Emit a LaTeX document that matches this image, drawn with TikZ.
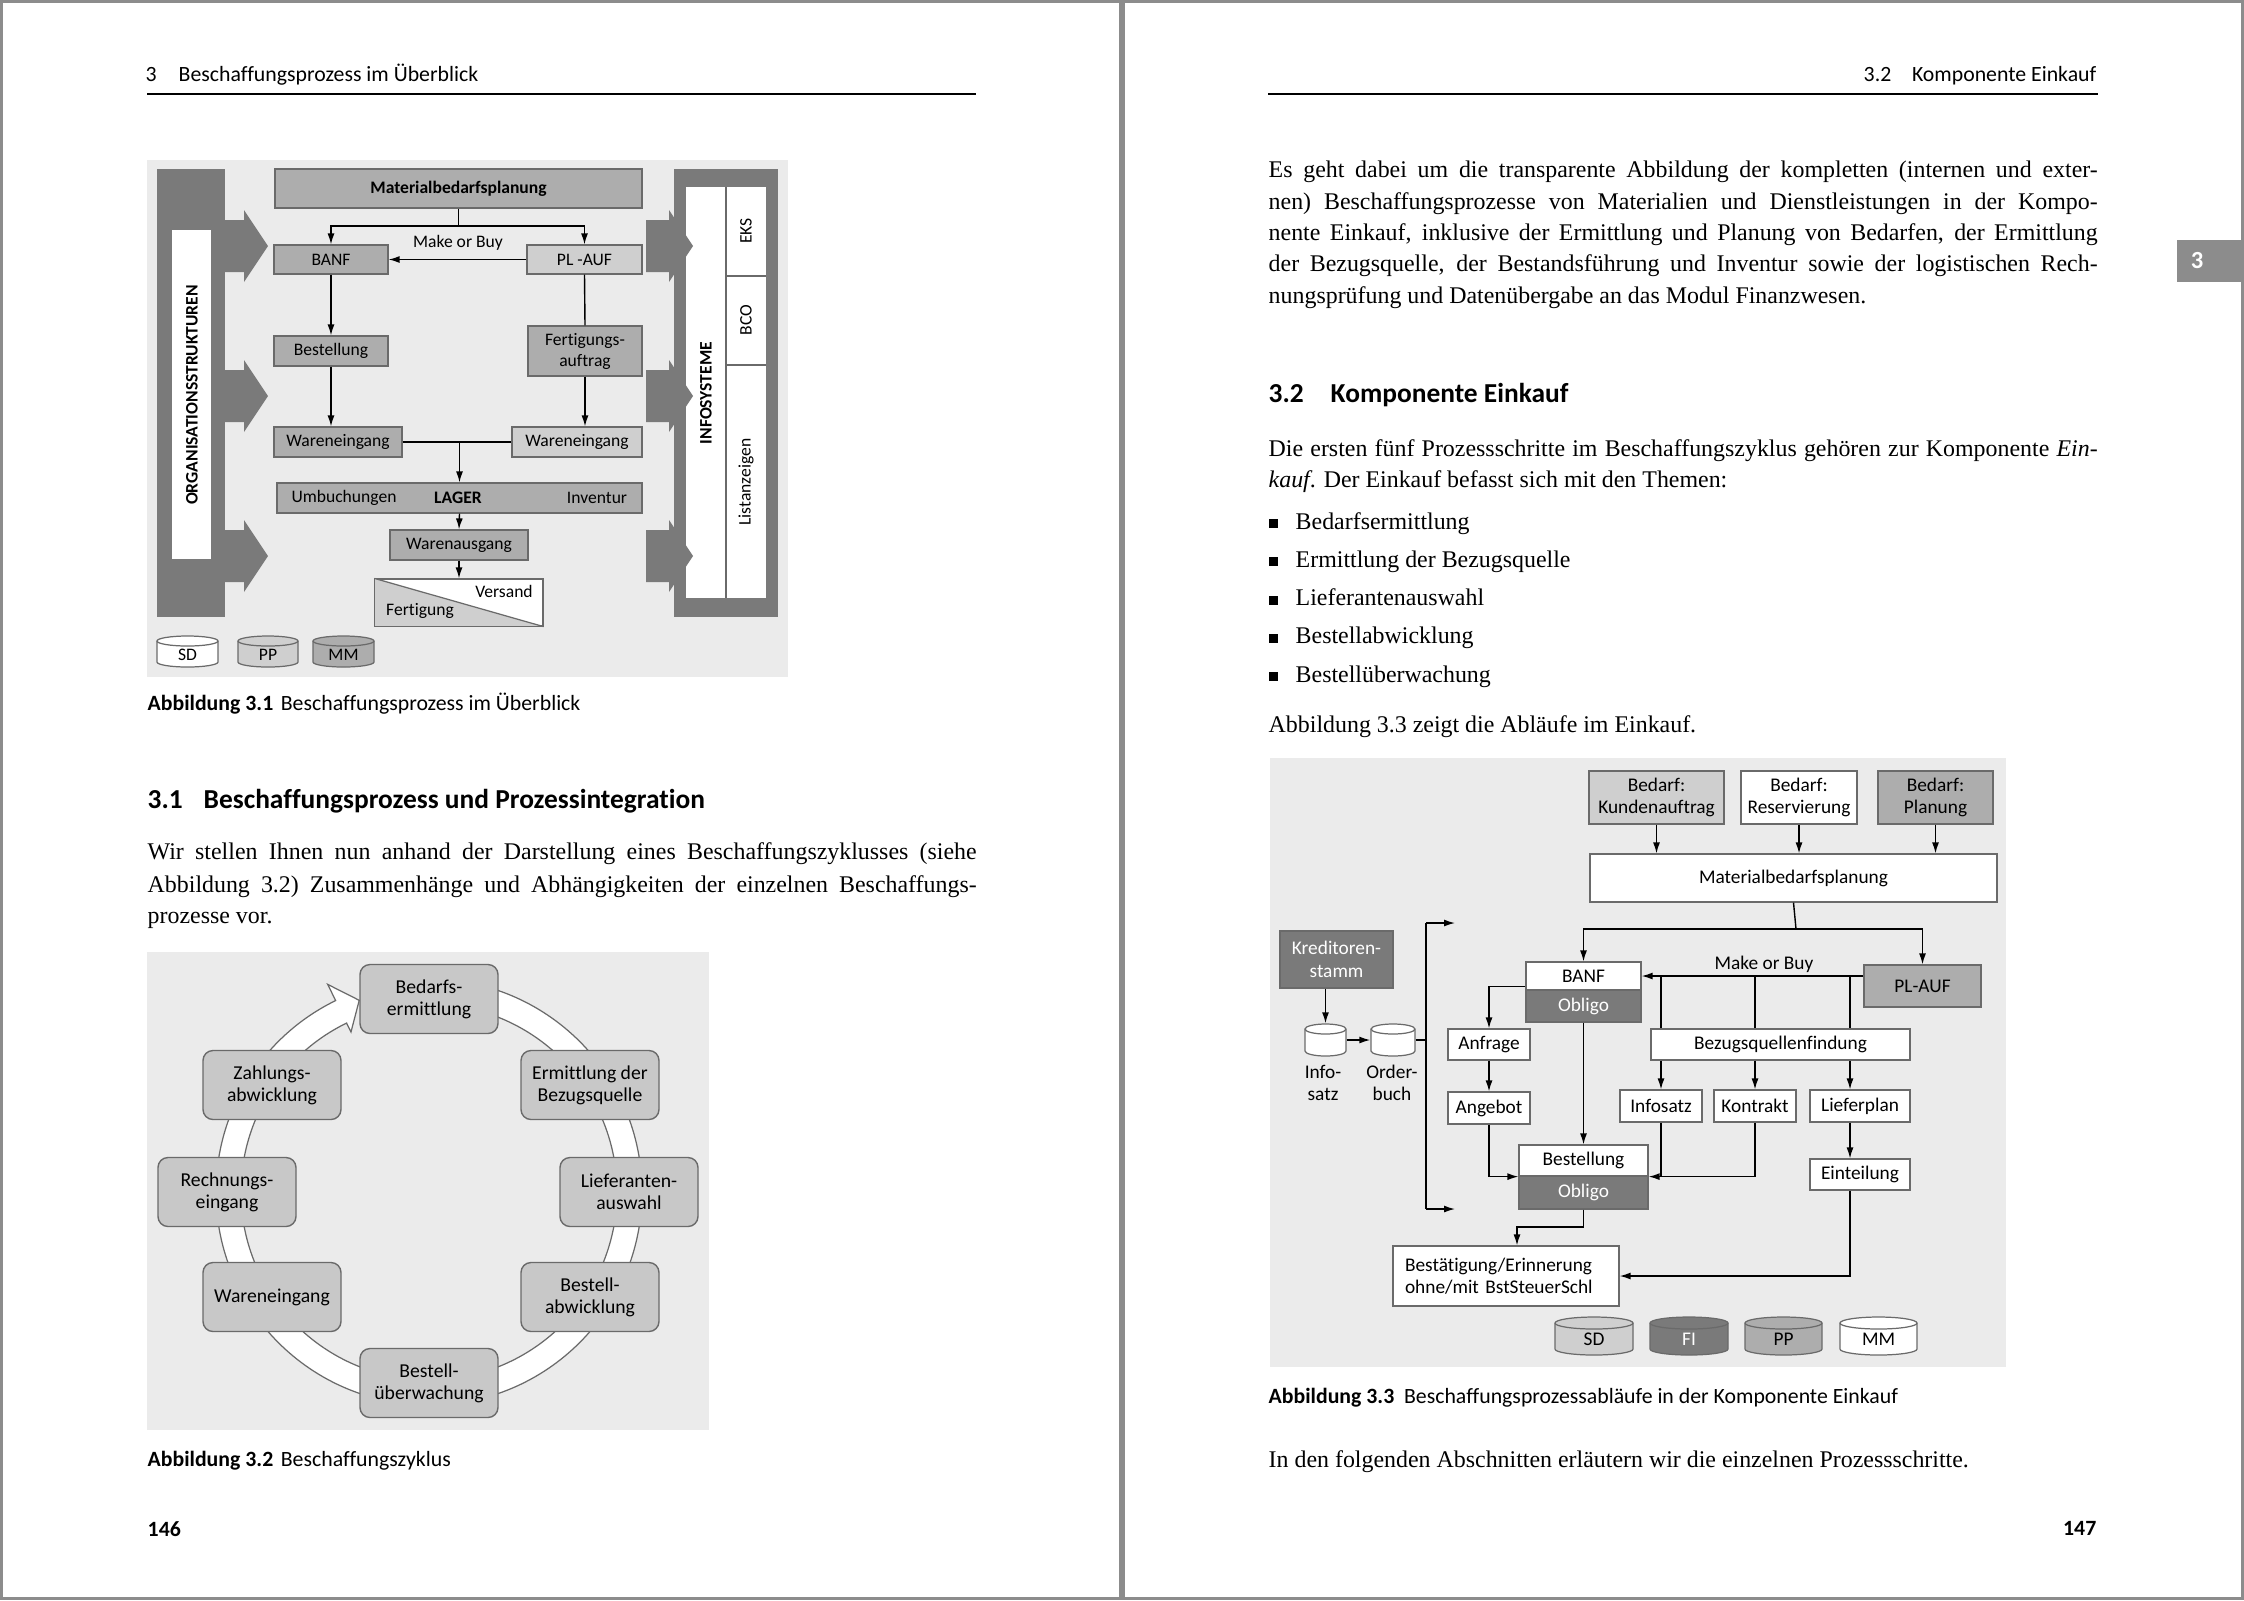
\documentclass[tikz,border=0pt]{standalone}
\usepackage{fontspec}
\setmainfont{Liberation Serif}
\setsansfont{Carlito}[Ligatures=NoCommon]
\usetikzlibrary{arrows.meta,calc}

\definecolor{pageedge}{HTML}{8C8C8C}
\definecolor{figbg}{HTML}{EBEBEB}
\definecolor{bardark}{HTML}{7A7A7A}
\definecolor{boxmid}{HTML}{ADADAD}
\definecolor{boxlight}{HTML}{CFCFCF}
\definecolor{boxline}{HTML}{6A6A6A}
\definecolor{cyclefill}{HTML}{C8C8C8}

\newcommand{\txtfont}{\rmfamily\fontsize{6.8pt}{8pt}\selectfont}
\newcommand{\capfont}{\sffamily\fontsize{6.2pt}{7.5pt}\selectfont}
\newcommand{\headfont}{\sffamily\bfseries\fontsize{7.8pt}{9pt}\selectfont}
\newcommand{\figfonta}{\sffamily\fontsize{5pt}{6pt}\selectfont}
\newcommand{\figfontb}{\sffamily\fontsize{5.6pt}{6.3pt}\selectfont}
\newcommand{\figfontc}{\sffamily\fontsize{5.5pt}{6.4pt}\selectfont}
\newcommand{\jline}[1]{\makebox[82.9mm][s]{#1}}
\def\cyle{5}
% database cylinder: name, centre x, top y, bottom y, width, fill, text
\newcommand{\dbcyl}[7]{%
  \path[draw=boxline, line width=0.35pt, fill=#6]
    (#2-#5/2,#3+\cyle) -- (#2-#5/2,#4-\cyle)
    arc[start angle=180, end angle=0, x radius=#5/2, y radius=\cyle]
    -- (#2+#5/2,#3+\cyle)
    arc[start angle=0, end angle=-180, x radius=#5/2, y radius=\cyle] -- cycle;
  \draw[boxline, line width=0.35pt] (#2-#5/2,#3+\cyle)
    arc[start angle=180, end angle=0, x radius=#5/2, y radius=\cyle];
  \node[inner sep=0pt, minimum width={#5*0.1mm}, minimum height={(#4-#3)*0.1mm}] (#1) at (#2,{(#3+#4)/2}) {};
  \node[inner sep=0pt] (#1txt) at ([yshift=-0.35mm]#1.center) {#7};
}

\tikzset{
  txtline/.style={anchor=base west, inner sep=0pt, font=\txtfont},
  capline/.style={anchor=base west, inner sep=0pt, font=\capfont},
  headline/.style={anchor=base west, inner sep=0pt, font=\headfont},
  wh/.style 2 args={minimum width=#1mm, minimum height=#2mm},
  flowbox/.style={draw=boxline, line width=0.35pt, inner sep=0pt, align=center},
  boxa/.style={flowbox, font=\figfonta},
  boxc/.style={flowbox, font=\figfontc, fill=white},
  cyclebox/.style={draw=boxline, line width=0.4pt, fill=cyclefill, rounded corners=1mm,
    minimum width=13.8mm, minimum height=6.9mm, align=center, font=\figfontb, inner sep=0pt},
  flowarrow/.style={-{Latex[length=1.1mm,width=0.7mm]}, line width=0.4pt},
  flowline/.style={line width=0.4pt}
}

\begin{document}
\begin{tikzpicture}[x=0.1mm, y=-0.1mm]
\useasboundingbox (0,0) rectangle (2244,1600);
% pages
\fill[pageedge] (0,0) rectangle (2244,1600);
\fill[white] (3,3) rectangle (1119,1597);
\fill[white] (1125,3) rectangle (2241,1597);

% ---------------- left page ----------------
\node[capline] (lhnum) at (145,81) {3};
\node[capline] (lhtxt) at (178,81) {Beschaffungsprozess im Überblick};
\draw[line width=0.2mm] (147,94) -- (976,94);

% Abbildung 3.1
\fill[figbg] (147,160) rectangle (788,677);
\fill[bardark] (157,169) rectangle (225,617);
\fill[white] (172,230) rectangle (211,559);
\node[rotate=90, inner sep=0pt, font=\figfonta\bfseries] (orga) at (192,395) {ORGANISATIONSSTRUKTUREN};
\fill[bardark] (674,169) rectangle (778,617);
\fill[white] (686,187) rectangle (766,598);
\draw[boxline, line width=0.35pt] (726,187) -- (726,598);
\draw[boxline, line width=0.35pt] (726,276) -- (766,276);
\draw[boxline, line width=0.35pt] (726,365) -- (766,365);
\node[rotate=90, inner sep=0pt, font=\figfonta\bfseries] (infos) at (706,393) {INFOSYSTEME};
\node[rotate=90, inner sep=0pt, font=\figfonta] (eks) at (746,231) {EKS};
\node[rotate=90, inner sep=0pt, font=\figfonta] (bco) at (746,320) {BCO};
\node[rotate=90, inner sep=0pt, font=\figfonta] (lanz) at (746,482) {Listanzeigen};
\foreach \c in {246,396,556}{
  \fill[bardark] (221,\c-26) -- (244,\c-26) -- (244,\c-36) -- (268,\c) -- (244,\c+36) -- (244,\c+26) -- (221,\c+26) -- cycle;
  \fill[bardark] (646,\c-26) -- (669,\c-26) -- (669,\c-36) -- (693,\c) -- (669,\c+36) -- (669,\c+26) -- (646,\c+26) -- cycle;
}
\node[boxa, fill=boxmid, wh={36.7}{3.9}, font=\figfonta\bfseries] (mbp) at (458.5,188.5) {Materialbedarfsplanung};
\node[boxa, fill=boxmid, wh={11.4}{2.9}] (banf) at (331,259.5) {BANF};
\node[boxa, fill=boxlight, wh={11.5}{2.9}] (plauf) at (584.5,259.5) {PL -AUF};
\node[inner sep=0pt, font=\figfonta] (mob) at (458,243) {Make or Buy};
\node[boxa, fill=boxmid, wh={11.4}{3}] (best) at (331,351) {Bestellung};
\node[boxa, fill=boxmid, wh={11.4}{5}] (fert) at (585,351) {Fertigungs-\\auftrag};
\node[boxa, fill=boxmid, wh={12.8}{3}] (weL) at (338,442) {Wareneingang};
\node[boxa, fill=boxlight, wh={13}{3}] (weR) at (577,442) {Wareneingang};
\node[boxa, fill=boxmid, wh={36.5}{3}] (lager) at (459.5,498) {};
\node[inner sep=0pt, font=\figfonta] (umb) at (344,498) {Umbuchungen};
\node[inner sep=0pt, font=\figfonta\bfseries] (lagt) at (458,498) {LAGER};
\node[inner sep=0pt, font=\figfonta] (inv) at (597,498) {Inventur};
\node[boxa, fill=boxmid, wh={13.8}{3}] (wa) at (459,545) {Warenausgang};
\node[boxa, fill=white, wh={16.8}{4.7}] (fv) at (459,602.5) {};
\fill[boxlight] (fv.north west) -- (fv.south east) -- (fv.south west) -- cycle;
\draw[boxline, line width=0.35pt] (fv.north west) -- (fv.south east);
\draw[boxline, line width=0.35pt] (fv.north west) rectangle (fv.south east);
\node[inner sep=0pt, font=\figfonta] (vers) at (504,591) {Versand};
\node[inner sep=0pt, font=\figfonta] (fertg) at (420,611) {Fertigung};
\coordinate (mksplit) at (458.5,226);
\draw[flowline] (mbp.south) -- (mksplit);
\draw[flowarrow] (mksplit) -| (banf.north);
\draw[flowarrow] (mksplit) -| (plauf.north);
\draw[flowarrow] (plauf.west) -- (banf.east);
\draw[flowarrow] (banf.south) -- (best.north);
\draw[flowline] (plauf.south) -- (fert.north);
\draw[flowarrow] (best.south) -- (best.south |- weL.north);
\draw[flowarrow] (fert.south) -- (fert.south |- weR.north);
\draw[flowline] (weL.east) -- (weR.west);
\draw[flowarrow] (lager.north |- weL.east) -- (lager.north);
\draw[flowarrow] (lager.south) -- (wa.north);
\draw[flowarrow] (wa.south) -- (fv.north);
\dbcyl{cylSDa}{187.5}{636}{667}{61}{white}{\figfonta SD}
\dbcyl{cylPPa}{268}{636}{667}{60}{boxlight}{\figfonta PP}
\dbcyl{cylMMa}{343.5}{636}{667}{61}{boxmid}{\figfonta MM}

\node[capline] (cap31) at (147,710) {\textbf{Abbildung 3.1}\hspace{0.35em}Beschaffungsprozess im Überblick};
\node[headline] (h31num) at (147,808) {3.1};
\node[headline] (h31txt) at (203,808) {Beschaffungsprozess und Prozessintegration};
\node[txtline] (lt1) at (147,859) {\jline{Wir stellen Ihnen nun anhand der Darstellung eines Beschaffungszyklusses (siehe}};
\node[txtline] (lt2) at (147,892) {\jline{Abbildung 3.2) Zusammenhänge und Abhängigkeiten der einzelnen Beschaffungs-}};
\node[txtline] (lt3) at (147,923) {prozesse vor.};

% Abbildung 3.2
\fill[figbg] (147,952) rectangle (709,1430);
\coordinate (rc) at (429,1192);
\filldraw[fill=white, draw=boxline, line width=0.35pt]
  ($(rc)+(-90:213)$) arc[start angle=-90, end angle=244, radius=213]
  -- ($(rc)+(244:231)$) -- ($(rc)+(250:204)$) -- ($(rc)+(244:178)$)
  -- ($(rc)+(244:188)$) arc[start angle=244, end angle=-90, radius=188] -- cycle;
\node[cyclebox] (cyc1) at (429,999) {Bedarfs-\\ermittlung};
\node[cyclebox] (cyc2) at (590,1085) {Ermittlung der\\Bezugsquelle};
\node[cyclebox] (cyc3) at (629,1192) {Lieferanten-\\auswahl};
\node[cyclebox] (cyc4) at (590,1297) {Bestell-\\abwicklung};
\node[cyclebox] (cyc5) at (429,1383) {Bestell-\\überwachung};
\node[cyclebox] (cyc6) at (272,1297) {Wareneingang};
\node[cyclebox] (cyc7) at (227,1192) {Rechnungs-\\eingang};
\node[cyclebox] (cyc8) at (272,1085) {Zahlungs-\\abwicklung};

\node[capline] (cap32) at (147,1466) {\textbf{Abbildung 3.2}\hspace{0.35em}Beschaffungszyklus};
\node[capline, font=\capfont\bfseries] (pnl) at (147,1536) {146};

% ---------------- right page ----------------
\node[capline] (rhnum) at (1863,81) {3.2};
\node[capline, anchor=base east] (rhtxt) at (2097,81) {Komponente Einkauf};
\draw[line width=0.2mm] (1268,94) -- (2098,94);
\fill[pageedge] (2177,240) rectangle (2241,282);
\node[inner sep=0pt, text=white, font=\sffamily\bfseries\fontsize{7pt}{8pt}\selectfont] (tab) at (2197,261) {3};

\node[txtline] (rt1) at (1268,177) {\jline{Es geht dabei um die transparente Abbildung der kompletten (internen und exter-}};
\node[txtline] (rt2) at (1268,209) {\jline{nen) Beschaffungsprozesse von Materialien und Dienstleistungen in der Kompo-}};
\node[txtline] (rt3) at (1268,240) {\jline{nente Einkauf, inklusive der Ermittlung und Planung von Bedarfen, der Ermittlung}};
\node[txtline] (rt4) at (1268,271) {\jline{der Bezugsquelle, der Bestandsführung und Inventur sowie der logistischen Rech-}};
\node[txtline] (rt5) at (1268,303) {nungsprüfung und Datenübergabe an das Modul Finanzwesen.};
\node[headline] (h32num) at (1268,402) {3.2};
\node[headline] (h32txt) at (1330,402) {Komponente Einkauf};
\node[txtline] (rt6) at (1268,456) {\jline{Die ersten fünf Prozessschritte im Beschaffungszyklus gehören zur Komponente \textit{Ein-}}};
\node[txtline] (rt7) at (1268,487) {\textit{kauf}. Der Einkauf befasst sich mit den Themen:};
\foreach \itm [count=\i] in {Bedarfsermittlung, Ermittlung der Bezugsquelle, Lieferantenauswahl, Bestellabwicklung, Bestellüberwachung}{
  \fill (1269,{519+38.25*(\i-1)}) rectangle ++(9,9);
  \node[txtline] (item\i) at (1295,{529+38.25*(\i-1)}) {\itm};
}
\node[txtline] (rt8) at (1268,732) {Abbildung 3.3 zeigt die Abläufe im Einkauf.};

% Abbildung 3.3
\fill[figbg] (1270,758) rectangle (2006,1367);
\node[boxc, fill=boxlight, wh={13.5}{5.3}] (bk) at (1656.5,797.5) {Bedarf:\\Kundenauftrag};
\node[boxc, wh={11.6}{5.3}] (br) at (1799,797.5) {Bedarf:\\Reservierung};
\node[boxc, fill=boxmid, wh={11.5}{5.3}] (bp) at (1935.5,797.5) {Bedarf:\\Planung};
\node[boxc, wh={40.7}{4.8}] (mbp3) at (1793.5,878) {Materialbedarfsplanung};
\draw[flowarrow] (bk.south) -- (bk.south |- mbp3.north);
\draw[flowarrow] (br.south) -- (br.south |- mbp3.north);
\draw[flowarrow] (bp.south) -- (bp.south |- mbp3.north);
\node[boxc, wh={11.5}{2.8}] (banf3) at (1583.5,976) {BANF};
\node[boxc, fill=bardark, text=white, wh={11.5}{3.2}] (obl1) at (1583.5,1006) {Obligo};
\node[boxc, fill=boxmid, wh={11.7}{4.2}] (plauf3) at (1922.5,986) {PL-AUF};
\node[inner sep=0pt, font=\figfontc] (mob3) at (1764,964) {Make or Buy};
\coordinate (split3) at (1796,929);
\draw[flowline] (mbp3.south) -- (split3);
\draw[flowarrow] (split3) -| (banf3.north);
\draw[flowarrow] (split3) -| (plauf3.north);
\draw[flowarrow] (plauf3.west |- banf3.east) -- (banf3.east);
\node[boxc, wh={25.9}{3.1}] (bqf) at (1780.5,1044.5) {Bezugsquellenfindung};
\node[boxc, wh={8.2}{3.2}] (isz) at (1661,1106) {Infosatz};
\node[boxc, wh={8.2}{3.2}] (kon) at (1755,1106) {Kontrakt};
\node[boxc, wh={10}{3.2}] (lfp) at (1860,1106) {Lieferplan};
\node[boxc, wh={10}{3.1}] (etl) at (1860,1174.5) {Einteilung};
\coordinate (colC) at (1850,976);
\draw[flowline] (isz.north |- banf3.east) -- (isz.north |- bqf.north);
\draw[flowline] (kon.north |- banf3.east) -- (kon.north |- bqf.north);
\draw[flowline] (colC) -- (colC |- bqf.north);
\draw[flowarrow] (isz.north |- bqf.south) -- (isz.north);
\draw[flowarrow] (kon.north |- bqf.south) -- (kon.north);
\draw[flowarrow] (colC |- bqf.south) -- (colC |- lfp.north);
\draw[flowarrow] (colC |- lfp.south) -- (colC |- etl.north);
\node[boxc, wh={8.2}{3.1}] (anf) at (1489,1044.5) {Anfrage};
\node[boxc, wh={8.2}{3.2}] (ang) at (1489,1108) {Angebot};
\draw[flowarrow] ([yshift=0.4mm]banf3.south west) -| (anf.north);
\draw[flowarrow] (anf.south) -- (ang.north);
\node[boxc, wh={12.9}{3.1}] (best3) at (1583.5,1160.5) {Bestellung};
\node[boxc, fill=bardark, text=white, wh={12.9}{3.3}] (obl2) at (1583.5,1192.5) {Obligo};
\draw[flowarrow] (obl1.south) -- (best3.north);
\draw[flowarrow] (ang.south) |- (best3.south west);
\draw[flowarrow] (kon.south) |- (best3.south east);
\draw[flowline] (isz.south) -- (isz.south |- best3.south east);
\node[boxc, wh={22.6}{6}, text width=20.2mm, inner xsep=1.2mm, align=left] (bst) at (1506,1276) {Bestätigung/Erinnerung\\ohne/mit BstSteuerSchl};
\coordinate (bend3) at (1517,1227);
\draw[flowarrow] (obl2.south) |- (bend3) -- (bend3 |- bst.north);
\draw[flowarrow] (colC |- etl.south) |- (bst.east);
\node[boxc, fill=bardark, text=white, wh={11.3}{5.7}] (kred) at (1336.5,959.5) {Kreditoren-\\stamm};
\dbcyl{cylInfo}{1325.5}{1024}{1056}{41}{white}{}
\dbcyl{cylOrder}{1393}{1024}{1056}{44}{white}{}
\node[inner sep=0pt, font=\figfontc, align=center] (lInfo) at (1323,1083) {Info-\\satz};
\node[inner sep=0pt, font=\figfontc, align=center] (lOrder) at (1392,1083) {Order-\\buch};
\draw[flowarrow] (cylInfo.north |- kred.south) -- (cylInfo.north);
\draw[flowarrow] (cylInfo.east) -- (cylOrder.west);
\coordinate (busT) at (1426,923);
\coordinate (busB) at (1426,1209);
\coordinate (busTend) at (1455,923);
\coordinate (busBend) at (1455,1209);
\draw[flowline] (cylOrder.east) -- (cylOrder.east -| busT);
\draw[flowline] (busT) -- (busB);
\draw[flowarrow] (busT) -- (busTend);
\draw[flowarrow] (busB) -- (busBend);
\def\cyle{6}
\dbcyl{cylSDb}{1594}{1317}{1355}{78}{boxlight}{\figfontc SD}
\dbcyl{cylFIb}{1689}{1317}{1355}{78}{bardark}{\figfontc\color{white}FI}
\dbcyl{cylPPb}{1783.5}{1317}{1355}{77}{boxmid}{\figfontc PP}
\dbcyl{cylMMb}{1878.5}{1317}{1355}{77}{white}{\figfontc MM}

\node[capline] (cap33) at (1268,1403) {\textbf{Abbildung 3.3}\hspace{0.45em}Beschaffungsprozessabläufe in der Komponente Einkauf};
\node[txtline] (rt9) at (1268,1467) {In den folgenden Abschnitten erläutern wir die einzelnen Prozessschritte.};
\node[capline, anchor=base east, font=\capfont\bfseries] (pnr) at (2097,1535) {147};
\end{tikzpicture}
\end{document}
